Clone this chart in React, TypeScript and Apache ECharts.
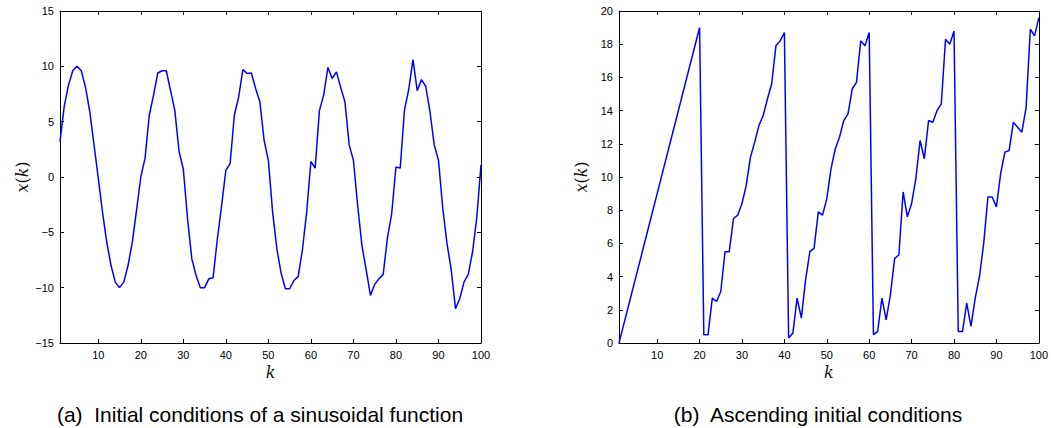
import React, { useEffect, useRef } from "react";
import * as echarts from "echarts";

// k = 1..100 (sample index)
const K: number[] = Array.from({ length: 100 }, (_, i) => i + 1);

const kTicks = [10, 20, 30, 40, 50, 60, 70, 80, 90, 100];

// (a) Initial conditions of a sinusoidal function
const sinusoidal = [
  3.2, 6.4, 8.3, 9.6, 10.0, 9.6, 8.1, 5.9, 2.9, -0.1,
  -3.2, -5.9, -8.0, -9.5, -10.0, -9.5, -8.0, -5.9, -3.0, 0.0,
  1.7, 5.6, 7.4, 9.4, 9.6, 9.6, 7.8, 6.0, 2.3, 0.7,
  -3.8, -7.4, -8.9, -10.0, -10.0, -9.2, -9.1, -5.6, -2.6, 0.6,
  1.2, 5.6, 7.2, 9.7, 9.35, 9.4, 8.0, 6.8, 3.3, 1.5,
  -3.2, -6.5, -8.7, -10.1, -10.1, -9.35, -9.0, -6.6, -3.2, 1.4,
  0.8, 6.0, 7.4, 9.9, 8.9, 9.5, 8.1, 6.8, 2.9, 1.5,
  -2.6, -6.2, -8.4, -10.7, -9.7, -9.2, -8.8, -5.5, -3.3, 0.9,
  0.8, 6.05, 7.9, 10.6, 7.8, 8.8, 8.2, 5.9, 2.9, 1.5,
  -2.8, -6.0, -8.4, -11.9, -11.0, -9.5, -8.8, -6.8, -3.7, 1.1,
];

// (b) Ascending initial conditions
const ascending = [
  0, 1, 2, 3, 4, 5, 6, 7, 8, 9,
  10, 11, 12, 13, 14, 15, 16, 17, 18, 19,
  0.5, 0.5, 2.7, 2.5, 3.1, 5.5, 5.5, 7.5, 7.7, 8.4,
  9.5, 11.2, 12.1, 13.1, 13.7, 14.7, 15.6, 17.9, 18.2, 18.7,
  0.3, 0.6, 2.7, 1.5, 3.8, 5.5, 5.7, 7.9, 7.7, 8.7,
  10.5, 11.7, 12.4, 13.4, 13.8, 15.3, 15.7, 18.2, 17.9, 18.7,
  0.5, 0.7, 2.7, 1.4, 2.9, 5.1, 5.3, 9.1, 7.6, 8.4,
  9.9, 12.2, 11.1, 13.4, 13.3, 14.0, 14.4, 18.3, 18.0, 18.8,
  0.7, 0.7, 2.4, 1.0, 2.7, 4.0, 6.0, 8.8, 8.8, 8.2,
  10.2, 11.5, 11.6, 13.3, 13.0, 12.7, 14.2, 18.9, 18.5, 19.6,
];

const captionA = "(a)  Initial conditions of a sinusoidal function";
const captionB = "(b)  Ascending initial conditions";

const SANS = "'Liberation Sans', Arial, Helvetica, sans-serif";
const SERIF = "'DejaVu Serif', serif";

const minusFmt = (v: number) => (v < 0 ? "\u2212" + Math.abs(v) : String(v));

const nameRich = {
  i: { fontFamily: SERIF, fontStyle: "italic", fontSize: 16, color: "#111" },
  r: { fontFamily: SERIF, fontSize: 16, color: "#111" },
};

function xAxes(grid: number) {
  const common = {
    type: "value",
    gridIndex: grid,
    min: 1,
    max: 100,
    splitLine: { show: false },
    axisLine: { onZero: false, lineStyle: { color: "#000", width: 1 } },
  };
  return [
    {
      ...common,
      position: "bottom",
      name: "{i|k}",
      nameLocation: "middle",
      nameGap: 19,
      nameTextStyle: { rich: nameRich },
      axisTick: { inside: true, length: 4, lineStyle: { color: "#000" }, customValues: kTicks },
      axisLabel: {
        customValues: kTicks,
        color: "#000",
        fontFamily: SANS,
        fontSize: 11,
        margin: 6,
      },
    },
    {
      ...common,
      position: "top",
      axisTick: { inside: true, length: 4, lineStyle: { color: "#000" }, customValues: kTicks },
      axisLabel: { show: false, customValues: kTicks },
    },
  ];
}

function yAxes(grid: number, min: number, max: number, interval: number) {
  const common = {
    type: "value",
    gridIndex: grid,
    min,
    max,
    interval,
    splitLine: { show: false },
    axisLine: { onZero: false, lineStyle: { color: "#000", width: 1 } },
    axisTick: { inside: true, length: 4, lineStyle: { color: "#000" } },
  };
  return [
    {
      ...common,
      position: "left",
      name: "{i|x}{r|(}{i|k}{r|)}",
      nameLocation: "middle",
      nameGap: 30,
      nameTextStyle: { rich: nameRich },
      axisLabel: {
        color: "#000",
        fontFamily: SANS,
        fontSize: 11,
        margin: 6,
        showMinLabel: true,
        showMaxLabel: true,
        formatter: minusFmt,
      },
    },
    {
      ...common,
      position: "right",
      axisLabel: { show: false },
    },
  ];
}

export default function App() {
  const ref = useRef<HTMLDivElement>(null);

  useEffect(() => {
    if (!ref.current) return;
    const chart = echarts.init(ref.current, undefined, { renderer: "svg" });
    chart.setOption({
      animation: false,
      backgroundColor: "#fff",
      grid: [
        { left: 60, top: 11, width: 421, height: 332 },
        { left: 619, top: 11, width: 421, height: 332 },
      ],
      xAxis: [...xAxes(0), ...xAxes(1)],
      yAxis: [...yAxes(0, -15, 15, 5), ...yAxes(1, 0, 20, 2)],
      series: [
        {
          type: "line",
          xAxisIndex: 0,
          yAxisIndex: 0,
          showSymbol: false,
          lineStyle: { color: "#0000ff", width: 1.5 },
          data: K.map((k, i) => [k, sinusoidal[i]]),
        },
        {
          type: "line",
          xAxisIndex: 2,
          yAxisIndex: 2,
          showSymbol: false,
          lineStyle: { color: "#0000ff", width: 1.5 },
          data: K.map((k, i) => [k, ascending[i]]),
        },
      ],
      graphic: [
        {
          type: "text",
          x: 260,
          y: 414,
          style: {
            text: captionA,
            fontFamily: SANS,
            fontSize: 21,
            fill: "#000",
            textAlign: "center",
            textVerticalAlign: "middle",
            align: "center",
            verticalAlign: "middle",
          },
        },
        {
          type: "text",
          x: 818,
          y: 414,
          style: {
            text: captionB,
            fontFamily: SANS,
            fontSize: 21,
            fill: "#000",
            textAlign: "center",
            textVerticalAlign: "middle",
            align: "center",
            verticalAlign: "middle",
          },
        },
      ],
    });
    return () => chart.dispose();
  }, []);

  return (
    <div
      ref={ref}
      style={{ position: "fixed", left: 0, top: 0, width: 1051, height: 428 }}
    />
  );
}
